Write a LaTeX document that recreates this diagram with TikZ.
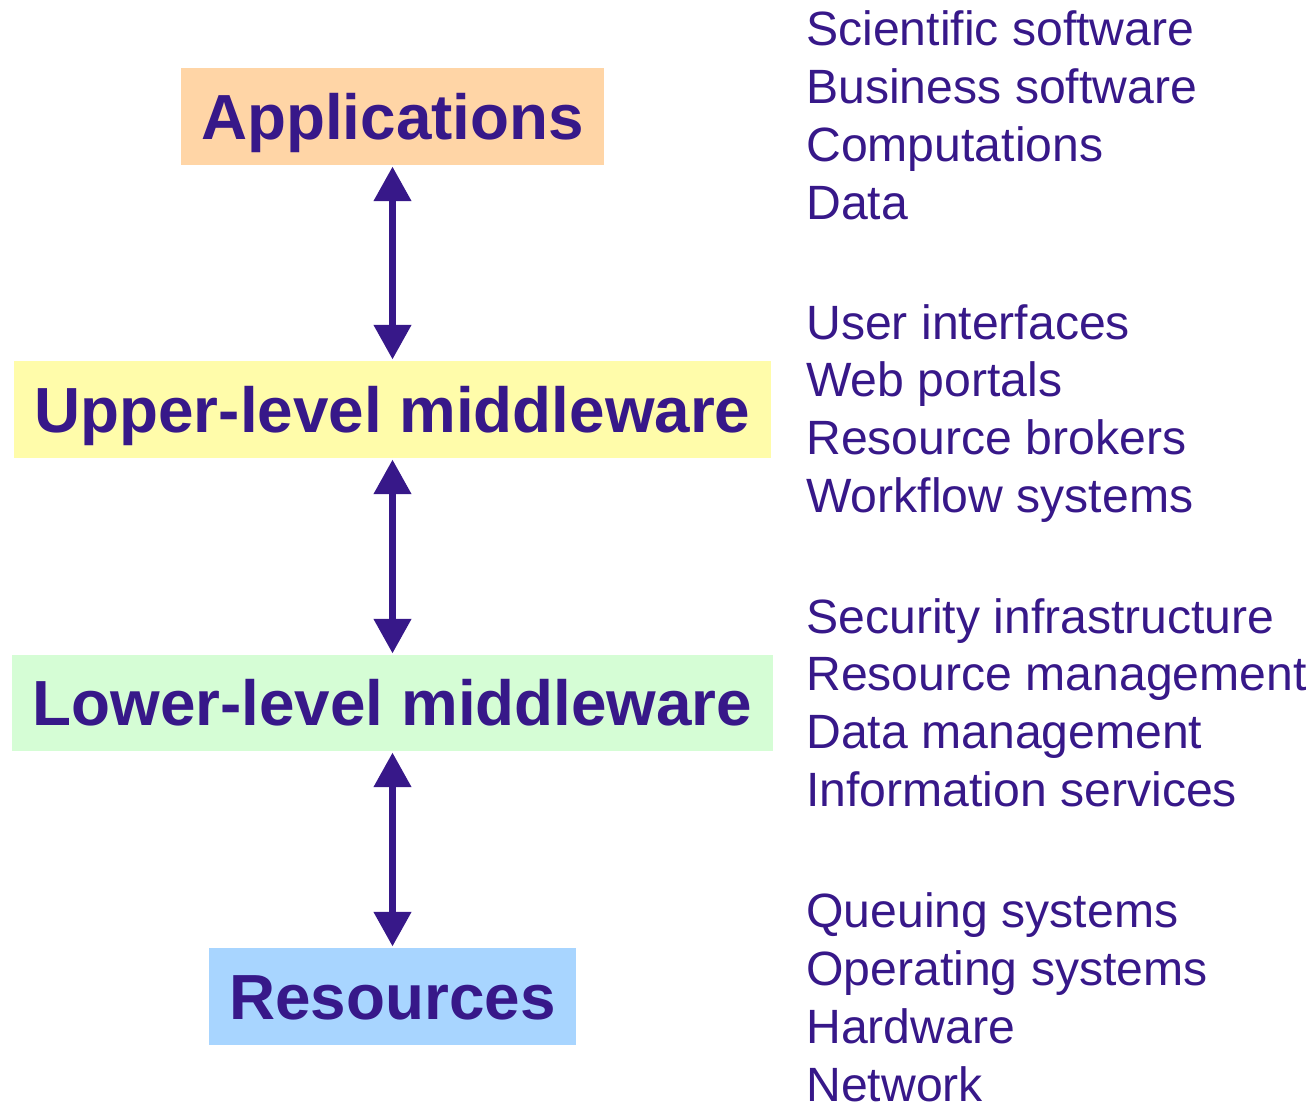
\documentclass[tikz,border=0pt]{standalone}
\usepackage{fontspec}
\setmainfont{Liberation Sans}
\usetikzlibrary{arrows.meta}
\definecolor{ink}{RGB}{55,24,137}
\definecolor{appfill}{RGB}{255,213,166}
\definecolor{upfill}{RGB}{255,252,170}
\definecolor{lowfill}{RGB}{213,253,213}
\definecolor{resfill}{RGB}{168,213,255}
\tikzset{
  layer/.style={inner sep=0pt, minimum height=1.94cm, text=ink,
    font=\fontsize{36.3}{40}\selectfont\bfseries, text height=26pt, text depth=0pt},
  item/.style={inner sep=0pt, anchor=base west, text=ink,
    font=\fontsize{27.4}{32}\selectfont},
  link/.style={ink, line width=4.5pt,
    {Triangle[width=20.4pt,length=19.8pt]}-{Triangle[width=20.4pt,length=19.8pt]},
    shorten <=0.6pt, shorten >=0.6pt}
}
\begin{document}
\begin{tikzpicture}[x=0.02cm, y=-0.02cm]
\useasboundingbox (0,0) rectangle (1311,1105);
% the four layers
\node[layer, fill=appfill, minimum width=8.46cm] (app) at (392.5,116.5) {Applications};
\node[layer, fill=upfill, minimum width=15.14cm] (upper) at (392.5,409.5) {Upper-level middleware};
\node[layer, fill=lowfill, minimum width=15.22cm, minimum height=1.92cm] (lower) at (392.5,703) {Lower-level middleware};
\node[layer, fill=resfill, minimum width=7.34cm] (res) at (392.5,996.5) {Resources};
% links between layers
\draw[link] (app.south) -- (upper.north);
\draw[link] (upper.south) -- (lower.north);
\draw[link] (lower.south) -- (res.north);
% what each layer holds
\foreach \t [count=\i] in {Scientific software, Business software, Computations, Data}
  \node[item] (app\i) at (806,{46+57.7*(\i-1)}) {\t};
\foreach \t [count=\i] in {User interfaces, Web portals, Resource brokers, Workflow systems}
  \node[item] (upper\i) at (806,{339+57.7*(\i-1)}) {\t};
\foreach \t [count=\i] in {Security infrastructure, Resource management, Data management, Information services}
  \node[item] (lower\i) at (806,{633+57.7*(\i-1)}) {\t};
\foreach \t [count=\i] in {Queuing systems, Operating systems, Hardware, Network}
  \node[item] (res\i) at (806,{927+58*(\i-1)}) {\t};
\end{tikzpicture}
\end{document}
